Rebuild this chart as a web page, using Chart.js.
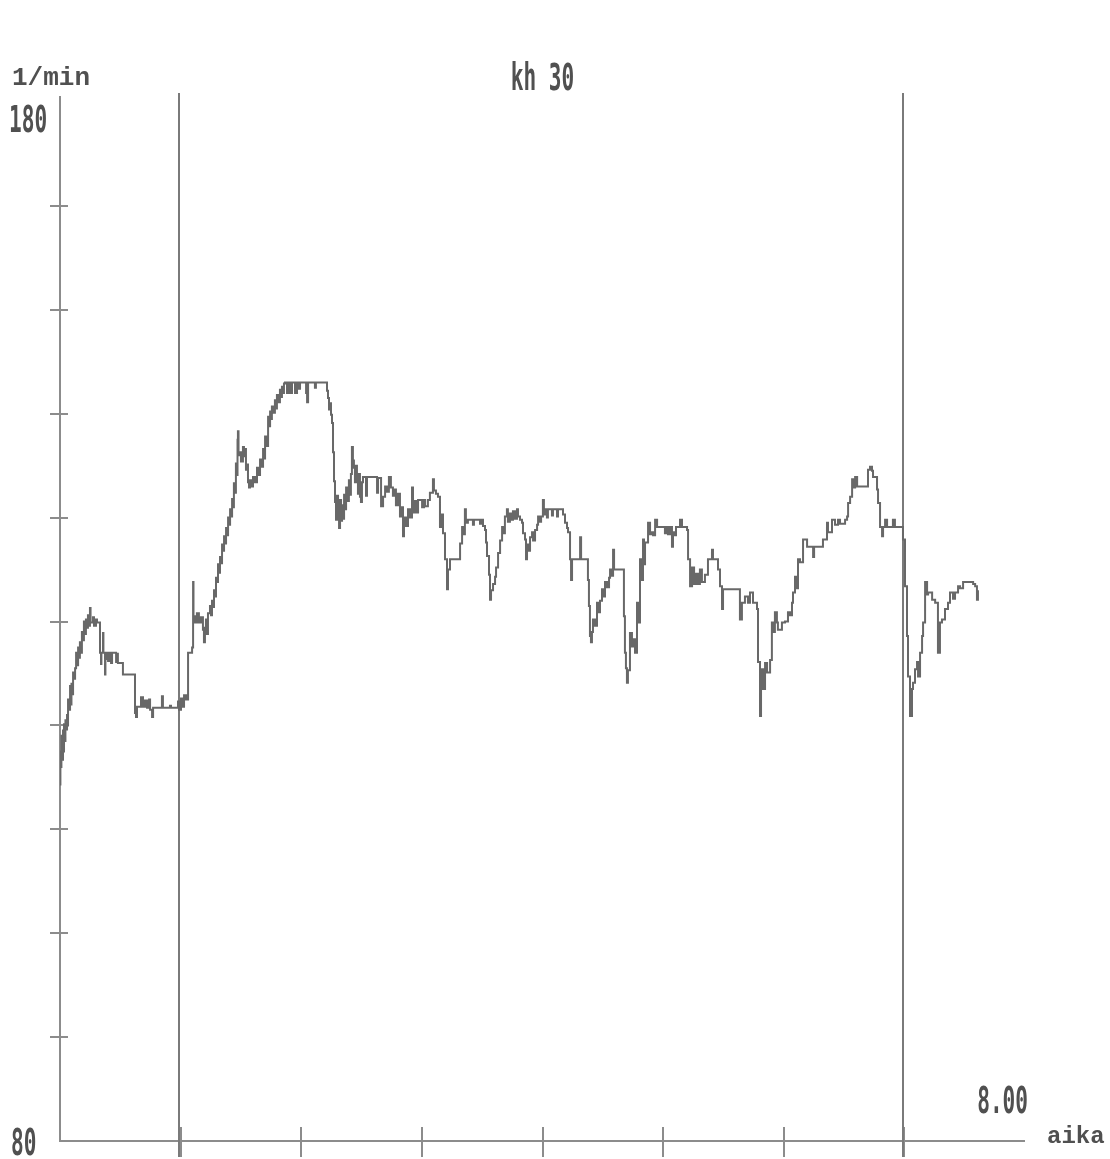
<!DOCTYPE html>
<html>
<head>
<meta charset="utf-8">
<title>kh 30</title>
<script src="https://cdn.jsdelivr.net/npm/chart.js@4/dist/chart.umd.min.js"></script>
<style>
  html, body { margin: 0; padding: 0; background: #ffffff; }
  #wrap { width: 1110px; height: 1159px; position: relative; }
  canvas { display: block; }
</style>
</head>
<body>
<div id="wrap"><canvas id="hr" width="1110" height="1159"></canvas></div>
<script>
// Heart rate trace: [minutes from start, beats per minute]
const heartRate = [
  [0,114.3],[0.2,117.5],[0.5,116],[0.7,119],[1.0,118],[1.2,116.7],[1.5,119.5],[1.7,117.5],[2.0,120.1],[2.5,118.5],
  [2.7,120.5],[3.0,119.6],[3.5,121],[3.7,120],[4.0,122.5],[4.5,121.5],[5.0,123.8],[5.5,122],[5.7,124],[6.0,123],
  [6.5,125.1],[7.0,124.5],[7.5,125.5],[8.0,127],[8.5,125.8],[9.0,127.5],[9.5,126.5],[9.9,128],[10.4,127],[10.9,129],
  [11.4,128.2],[11.9,130],[12.4,128.8],[12.9,130.2],[13.4,129.4],[13.9,130.6],[14.4,129.6],[14.9,131.3],[15.2,129.9],[16.4,130.4],
  [16.9,129.6],[17.9,130.2],[18.4,129.9],[19.9,127],[20.4,125.9],[20.6,127],[21.4,128.9],[21.6,127],[22.4,124.9],[22.6,126.4],
  [23.1,127],[23.9,126.2],[24.4,127],[25.4,126],[25.9,127],[27.9,126.1],[28.4,126.9],[28.8,126],[31.3,124.9],[37.3,121.2],
  [37.8,120.8],[38.3,121.8],[40.3,122.7],[41.3,121.8],[42.3,122.4],[43.3,121.7],[44.3,122.5],[44.8,121.5],[45.8,120.8],[46.3,121.7],
  [50.7,122.8],[51.2,121.7],[54.7,121.9],[55.2,121.7],[58.7,122.3],[59.2,121.5],[60.2,122.6],[60.7,121.8],[61.7,122.9],[62.7,122.5],
  [63.7,127],[65.7,127.5],[66.2,133.8],[66.4,130.5],[67.2,129.9],[68.1,130.8],[69.1,129.9],[70.1,130.4],[71.1,129.2],[71.6,128],
  [72.1,129.4],[72.6,130.2],[73.1,128.8],[73.6,130.8],[74.6,131.5],[75.1,130.6],[75.6,132],[76.1,131.4],[76.6,133],[77.1,132.4],
  [77.6,134.2],[78.1,133.8],[78.6,135.5],[79.1,134.7],[79.6,136.2],[80.1,135.6],[80.6,137.4],[81.1,136.8],[81.6,138.2],[82.1,137.5],
  [82.6,139],[83.1,138.3],[83.6,140],[84.1,139.3],[84.6,140.8],[85.1,140.1],[85.6,141.8],[86.1,141],[86.5,143.3],[87.0,142.4],
  [87.5,145.2],[88.0,144.1],[88.3,147.5],[88.5,148.3],[88.8,146],[89.5,146.3],[90.0,145.4],[91.0,146.8],[91.5,145.9],[92.0,146.6],
  [92.5,144.6],[93.0,145.1],[93.5,143.4],[94.0,142.9],[94.5,143.6],[95.5,143],[96.0,143.9],[97.0,143.4],[98.0,144.8],[98.5,144.1],
  [99.5,145.6],[100.0,144.9],[101.0,146.6],[101.5,145.7],[102.0,147.8],[102.5,146.9],[103.5,149.7],[104.0,148.8],[104.5,150.2],[105.0,149.5],
  [105.4,150.7],[105.9,150.1],[106.9,151.3],[107.4,150.5],[107.9,151.8],[108.4,151.1],[109.4,152.3],[109.9,151.6],[110.4,152.6],[110.9,152.0],
  [111.4,152.9],[111.9,153],[112.9,152],[113.4,153],[114.4,152],[115.4,153],[116.9,152],[117.9,153],[118.4,152.4],[119.4,153],
  [122.4,152],[122.9,151.1],[123.4,153],[126.8,152.5],[127.3,153],[132.8,152.2],[133.3,151.5],[133.8,150.4],[134.3,151],[134.8,149.9],
  [135.3,149.1],[135.8,146.3],[136.3,143.5],[136.8,141.5],[137.3,139.8],[137.8,142.1],[138.3,140.3],[138.8,139],[139.3,141.7],[139.8,139.7],
  [140.3,141.2],[140.8,139.9],[141.3,142.2],[141.8,140.8],[142.3,142.9],[143.3,141.6],[143.7,143.6],[144.2,142.2],[144.7,144.2],[145.2,146.8],
  [145.7,145.5],[146.2,144.8],[146.7,143.4],[147.2,145],[147.7,143.6],[148.2,142.3],[148.7,144.2],[149.2,142],[149.7,141.5],[150.2,143.4],
  [150.7,143.9],[152.2,142.1],[152.7,143.9],[157.7,142.4],[158.2,143.8],[159.7,141.1],[160.7,142],[161.7,143],[162.6,142.5],[163.6,143.9],
  [164.6,142.9],[165.6,142.1],[166.6,142.7],[167.1,141.2],[168.1,142.3],[169.1,140.1],[169.6,141],[170.6,138.2],[171.1,140],[172.1,139.2],
  [173.1,140.8],[174.1,140],[175.1,142.9],[175.6,140.5],[176.6,141.6],[177.6,140.5],[178.1,141.7],[180.1,141],[181.1,141.7],[181.6,141.1],
  [183.0,141.7],[184.0,142.4],[185.5,143.7],[186.0,142.6],[187.0,142.3],[188.0,142],[189.0,139.1],[189.5,140.3],[190.5,138.5],[191.5,136],
  [192.5,133.1],[193.0,135],[194.0,136],[198.0,136],[199.0,137.5],[200.0,139.1],[200.5,138.4],[201.4,140.8],[201.9,139.5],[202.9,139.8],
  [205.4,139.3],[205.9,139.8],[208.9,139.4],[209.4,139.8],[210.4,139.2],[211.4,138.8],[211.9,137.6],[212.4,136.3],[213.4,134.5],[213.9,132.1],
  [214.4,133],[215.4,133.6],[216.4,134.3],[216.9,135.2],[217.9,136.6],[218.9,137.8],[219.9,139.1],[220.4,138.5],[221.3,140.1],[222.3,140.8],
  [222.8,139.6],[223.8,140.4],[224.8,139.8],[225.3,140.6],[226.3,139.9],[227.3,140.8],[227.8,140.1],[228.8,139.8],[229.8,139.5],[230.3,138.5],
  [231.3,137.9],[231.8,136],[232.3,137.4],[232.8,136.8],[233.8,138.1],[234.8,138.6],[235.3,137.8],[236.3,138.8],[237.3,139.3],[237.8,140.1],
  [238.8,139.6],[239.3,140.1],[240.2,141.7],[240.7,140.3],[241.2,140.8],[242.2,140],[242.7,140.8],[244.7,140.2],[245.2,140.8],[247.2,140.1],
  [247.7,140.8],[249.7,140.8],[250.2,140.3],[251.2,139.5],[252.2,139],[252.7,138.6],[253.7,136],[254.2,134],[254.7,136],[258.7,138.1],
  [259.2,136],[262.6,134],[263.1,131.5],[263.6,128.6],[264.1,128],[264.6,129],[265.1,130.2],[266.1,129.6],[267.1,131.8],[268.1,130.9],
  [268.6,132],[269.6,133.1],[270.6,132.4],[271.1,133.8],[272.1,133.3],[273.1,134.2],[273.6,135],[274.1,134.4],[275.1,136.9],[275.6,135],
  [280.0,135],[280.5,130.5],[281.0,127],[281.5,125.5],[282.0,124.1],[282.5,125.3],[283.5,128.9],[284.5,127.6],[285.0,128.3],[286.0,127],
  [287.0,131.8],[287.5,129.9],[288.5,136],[289.0,134],[290.0,137.9],[290.5,135.5],[291.0,137.6],[292.5,139.5],[293.5,138.4],[294.5,138.6],
  [295.0,138.3],[296.0,139.8],[297.0,139.1],[300.9,138.5],[301.4,139.1],[302.4,138.4],[303.4,139.1],[304.4,137.2],[304.9,138.6],[305.9,138.3],
  [306.4,139.1],[308.4,139.8],[309.4,139.1],[311.9,138.8],[312.4,136],[313.4,133.4],[314.4,135.2],[315.4,133.6],[316.4,134.6],[317.4,133.6],
  [318.3,135],[319.3,133.8],[320.8,134.5],[322.3,136],[324.3,136.9],[324.8,136],[327.3,135],[328.3,133.4],[329.3,131.2],[329.8,133.1],
  [337.2,133.1],[338.2,130.2],[339.2,131.8],[340.7,132.4],[342.2,131.8],[343.2,132.8],[344.7,131.8],[346.7,131.2],[347.2,126.1],[348.2,120.9],
  [348.7,124],[349.2,125.4],[349.7,123.5],[350.7,126],[351.7,125.1],[353.2,126.3],[354.1,129.9],[354.6,129],[355.6,130.9],[356.6,129.9],
  [357.1,129.2],[359.1,129.9],[360.6,130],[362.1,130.9],[363.1,130.6],[364.1,131.8],[364.6,132.8],[365.6,134.3],[366.6,133.2],[367.1,136],
  [368.1,135.7],[369.6,137.9],[371.6,137.2],[374.6,136.2],[375.1,137.2],[379.5,137.9],[381.5,139.5],[382.0,138.6],[384.0,139.8],[385.5,139.3],
  [387.0,139.8],[388.0,139.4],[390.5,139.8],[391.5,140.1],[392.0,141.4],[393.0,142],[394.0,143.7],[394.5,142.9],[395.5,143.9],[396.5,143],
  [401.4,143],[401.9,144.6],[402.9,144.9],[403.9,144.5],[404.4,143.9],[406.4,142.7],[406.9,141.4],[407.9,139.1],[408.9,138.2],[409.4,139.1],
  [410.4,139.8],[411.4,139.1],[414.3,139.8],[415.3,139.1],[419.3,137.9],[420.3,133.4],[421.3,128.6],[421.8,124.7],[422.8,120.9],[423.8,123.5],
  [424.3,124.1],[425.3,125.4],[426.3,126.1],[426.8,124.7],[427.8,127],[428.8,128.6],[429.3,129.9],[430.3,133.8],[431.3,132.6],[431.8,132.8],
  [433.8,132.1],[435.3,131.8],[436.7,127],[437.7,129.9],[438.7,130.2],[440.2,131.2],[441.7,131.8],[442.7,132.8],[444.2,132.2],[445.2,132.8],
  [446.7,133.4],[447.7,133.2],[449.2,133.8],[452.7,133.8],[454.2,133.6],[455.2,133.4],[456.1,132.1],[456.6,133]
];

// Event markers (minutes)
const eventMarks = [59.3, 419.2];

// Axis ranges and tick values
const timeRange = [0, 480];
const rateRange = [80, 180];
const rateTicks = [90, 100, 110, 120, 130, 140, 150, 160, 170];
const timeTicks = [60, 120, 180, 240, 300, 360, 420];
const rateLabels = ['180', '80'];
const title = 'kh 30';
const yUnit = '1/min';
const xUnit = 'aika';
const endLabel = '8.00';

const INK = '#505050';
const AXIS = '#8c8c8c';

function condensedText(ctx, text, x, y, size, squeeze, align) {
  ctx.save();
  ctx.font = 'bold ' + size + 'px "DejaVu Sans Mono", monospace';
  const w = ctx.measureText(text).width * squeeze;
  let left = x;
  if (align === 'center') left = x - w / 2;
  else if (align === 'right') left = x - w;
  ctx.translate(left, y);
  ctx.scale(squeeze, 1);
  ctx.textAlign = 'left';
  ctx.textBaseline = 'alphabetic';
  ctx.fillText(text, 0, 0);
  ctx.restore();
}

const frame = {
  id: 'frame',
  beforeDatasetsDraw(chart) {
    const ctx = chart.ctx;
    const xs = chart.scales.x, ys = chart.scales.y;
    const x0 = xs.getPixelForValue(timeRange[0]);
    const x1 = xs.getPixelForValue(timeRange[1]);
    const yTop = ys.getPixelForValue(rateRange[1]);
    const yBot = ys.getPixelForValue(rateRange[0]);
    ctx.save();
    ctx.strokeStyle = AXIS;
    ctx.lineWidth = 2;
    ctx.lineCap = 'butt';
    ctx.beginPath();
    ctx.moveTo(x0, yTop - 6);
    ctx.lineTo(x0, yBot);
    ctx.lineTo(x1, yBot);
    ctx.stroke();
    // y ticks crossing the axis
    ctx.beginPath();
    rateTicks.forEach(v => {
      const y = Math.round(ys.getPixelForValue(v));
      ctx.moveTo(x0 - 10, y);
      ctx.lineTo(x0 + 8, y);
    });
    // x ticks crossing the axis
    timeTicks.forEach(t => {
      const x = Math.round(xs.getPixelForValue(t));
      ctx.moveTo(x, yBot - 14);
      ctx.lineTo(x, yBot + 16);
    });
    ctx.stroke();
    // event markers
    ctx.strokeStyle = '#7a7a7a';
    ctx.beginPath();
    eventMarks.forEach(t => {
      const x = Math.round(xs.getPixelForValue(t));
      ctx.moveTo(x, yTop - 9);
      ctx.lineTo(x, yBot + 16);
    });
    ctx.stroke();
    ctx.restore();
  },
  afterDraw(chart) {
    const ctx = chart.ctx;
    const xs = chart.scales.x, ys = chart.scales.y;
    const x0 = xs.getPixelForValue(timeRange[0]);
    const x1 = xs.getPixelForValue(timeRange[1]);
    const yTop = ys.getPixelForValue(rateRange[1]);
    const yBot = ys.getPixelForValue(rateRange[0]);
    ctx.save();
    ctx.fillStyle = INK;
    ctx.font = 'bold 26px "Liberation Mono", monospace';
    ctx.textBaseline = 'alphabetic';
    ctx.textAlign = 'left';
    ctx.fillText(yUnit, 12, yTop - 17);
    ctx.font = 'bold 24px "Liberation Mono", monospace';
    ctx.fillText(xUnit, x1 + 22, yBot + 2);
    condensedText(ctx, title, (x0 + x1) / 2 + 0, yTop - 12, 37, 0.57, 'center');
    condensedText(ctx, rateLabels[0], 9, yTop + 30, 37, 0.57, 'left');
    condensedText(ctx, rateLabels[1], 11, yBot + 14, 37, 0.57, 'left');
    condensedText(ctx, endLabel, x1 + 3, yBot - 28, 37, 0.57, 'right');
    ctx.restore();
  }
};

const points = heartRate.map(p => ({ x: p[0], y: p[1] }));

new Chart(document.getElementById('hr'), {
  type: 'line',
  data: {
    datasets: [{
      data: points,
      stepped: true,
      borderColor: '#686868',
      borderWidth: 2,
      pointRadius: 0,
      tension: 0,
      fill: false
    }]
  },
  options: {
    responsive: false,
    animation: false,
    events: [],
    layout: { padding: { left: 60, right: 85, top: 102, bottom: 18 } },
    scales: {
      x: { type: 'linear', min: timeRange[0], max: timeRange[1], display: false },
      y: { type: 'linear', min: rateRange[0], max: rateRange[1], display: false }
    },
    plugins: { legend: { display: false }, tooltip: { enabled: false } }
  },
  plugins: [frame]
});
</script>
</body>
</html>
